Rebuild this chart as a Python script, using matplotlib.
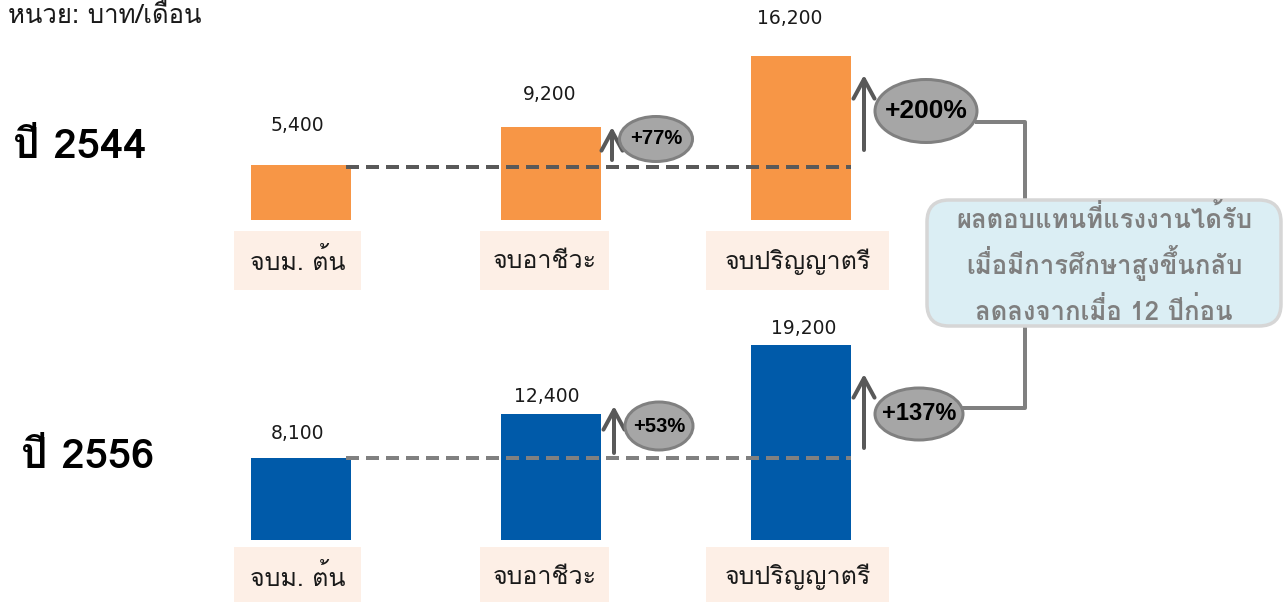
import matplotlib
matplotlib.use("Agg")
import matplotlib.pyplot as plt
from matplotlib import font_manager as fm
from matplotlib.patches import Ellipse, Rectangle, FancyBboxPatch, FancyArrowPatch
from matplotlib.transforms import Affine2D
from matplotlib.lines import Line2D

# ---------------- data ----------------
unit_label = "หน่วย: บาท/เดือน"
years = ["ปี 2544", "ปี 2556"]
categories = ["จบม. ต้น", "จบอาชีวะ", "จบปริญญาตรี"]
wages_2544 = [5400, 9200, 16200]
wages_2556 = [8100, 12400, 19200]
growth_2544 = ["+77%", "+200%"]
growth_2556 = ["+53%", "+137%"]
note_lines = ["ผลตอบแทนที่แรงงานได้รับ", "เมื่อมีการศึกษาสูงขึ้นกลับ", "ลดลงจากเมื่อ 12 ปีก่อน"]

# ---------------- fonts ----------------
names = {f.name for f in fm.fontManager.ttflist}
pref = ["Tahoma", "Loma", "Waree", "Garuda", "Noto Sans Thai", "Sarabun", "Krub"]
THAI = next((p for p in pref if p in names), "DejaVu Sans")
TFAM = [THAI, "DejaVu Sans"]
plt.rcParams['font.family'] = TFAM
plt.rcParams['lines.scale_dashes'] = False

W, H = 1286, 602
fig = plt.figure(figsize=(W / 100, H / 100), dpi=100)
px = Affine2D().scale(1 / W, -1 / H).translate(0, 1) + fig.transFigure
PT = 0.72  # points per pixel

K = 1000 / 10.15  # baht per pixel


def row_axes(top_px, bot_px, base_px):
    ax = fig.add_axes([0, (H - bot_px) / H, 1, (bot_px - top_px) / H])
    ax.set_xlim(-301 / 250, (W - 301) / 250)
    ax.set_ylim(-(bot_px - base_px) * K, (base_px - top_px) * K)
    ax.axis('off')
    return ax


rows = [
    dict(vals=wages_2544, growth=growth_2544, color="#F79646", dash="#595959",
         ax=row_axes(0, 300, 220), lab_off=[(-4, 40), (-1, 32), (-11, 37)],
         box_y=(231, 290), text_y=262, year_xy=(13, 148),
         arrows=[(612, 160, 127), (864, 150, 75)],
         ells=[(656, 139, 73, 45, 14.5), (926, 111, 102, 63, 19)], dash_dy=2),
    dict(vals=wages_2556, growth=growth_2556, color="#005AA9", dash="#808080",
         ax=row_axes(300, 602, 540), lab_off=[(-4, 24), (-4, 18), (3, 17)],
         box_y=(547, 606), text_y=577, year_xy=(21, 457),
         arrows=[(614, 453, 406), (864, 448, 374)],
         ells=[(659, 426, 68, 48, 14.5), (919, 414, 88, 52, 17)], dash_dy=0),
]
box_x = [(234, 361), (480, 609), (706, 889)]

for r, year in zip(rows, years):
    ax = r["ax"]
    xs = range(len(categories))
    ax.bar(xs, r["vals"], width=0.4, color=r["color"], zorder=2)
    for i, v in enumerate(r["vals"]):
        dx, dy = r["lab_off"][i]
        ax.annotate(f"{v:,}", (i, v), xytext=(dx, dy), textcoords="offset pixels",
                    ha="center", va="center", fontsize=13.5, color="#1a1a1a",
                    family="DejaVu Sans")
    v0 = r["vals"][0] - r["dash_dy"] * K
    ax.add_line(Line2D([0.18, 2.2], [v0, v0], color=r["dash"], lw=4 * PT,
                       dashes=(13 * PT, 7 * PT), zorder=3))
    # category boxes
    y0, y1 = r["box_y"]
    for (x0, x1), cat in zip(box_x, categories):
        fig.patches.append(Rectangle((x0, y0), x1 - x0, y1 - y0, transform=px,
                                     facecolor="#FDEFE6", edgecolor="none"))
        fig.text((x0 + x1) / 2, r["text_y"], cat, transform=px, ha="center",
                 va="center", fontsize=18, color="#1a1a1a", family=TFAM)
    # year label
    fig.text(r["year_xy"][0], r["year_xy"][1], year, transform=px, ha="left",
             va="center", fontsize=30, fontweight="bold", color="black", family=TFAM)
    # arrows
    for (x, yt, yh) in r["arrows"]:
        fig.patches.append(FancyArrowPatch((x, yt), (x, yh), transform=px,
                                           arrowstyle="->,head_length=0.7,head_width=0.38",
                                           mutation_scale=20, lw=4 * PT, color="#595959",
                                           shrinkA=0, shrinkB=0, zorder=4))
    for (cx, cy, ew, eh, fs), g in zip(r["ells"], r["growth"]):
        fig.patches.append(Ellipse((cx, cy), ew, eh, transform=px, facecolor="#A6A6A6",
                                   edgecolor="#808080", lw=3 * PT, zorder=4))
        fig.text(cx, cy, g, transform=px, ha="center", va="center", fontsize=fs,
                 fontweight="bold", color="black", family="Liberation Sans", zorder=5)

# connectors
fig.lines.append(Line2D([977, 1025, 1025], [122, 122, 198], transform=px,
                        color="#808080", lw=4 * PT, zorder=1))
fig.lines.append(Line2D([963, 1025, 1025], [408, 408, 328], transform=px,
                        color="#808080", lw=4 * PT, zorder=1))
# note box
fig.patches.append(FancyBboxPatch((927, 200), 354, 126, transform=px,
                                  boxstyle="round,pad=0,rounding_size=22",
                                  facecolor="#DBEEF4", edgecolor="#D6D6D6", lw=3.5 * PT, zorder=2))
for yy, line in zip([219, 263, 311], note_lines):
    fig.text(1104, yy, line, transform=px, ha="center", va="center", fontsize=18.5,
             fontweight="bold", color="#7F7F7F", family=TFAM, zorder=3)

fig.text(8, 14, unit_label, transform=px, ha="left", va="center", fontsize=18.5,
         color="#1a1a1a", family=TFAM)

fig.savefig("out.png", dpi=100)
